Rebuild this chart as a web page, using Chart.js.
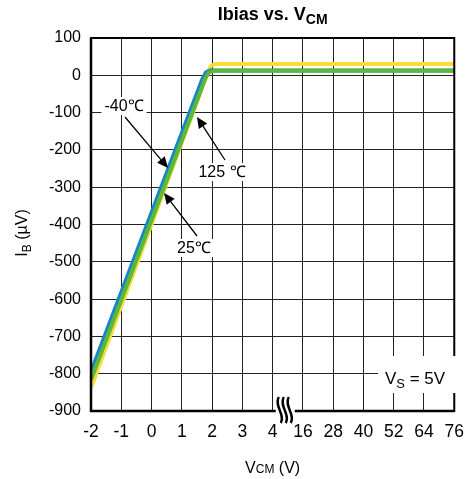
<!DOCTYPE html>
<html>
<head>
<meta charset="utf-8">
<script src="https://cdn.jsdelivr.net/npm/chart.js@4.4.1/dist/chart.umd.min.js"></script>
<style>
  body { margin: 0; background: #fff; }
  #wrap { width: 475px; height: 479px; }
</style>
</head>
<body>
<div id="wrap"><canvas id="chart" width="475" height="479"></canvas></div>
<script>
// Tick labels of the broken x axis (-2..4, then 16..76)
const xTickLabels = ['-2', '-1', '0', '1', '2', '3', '4', '16', '28', '40', '52', '64', '76'];

// VCM (V) and IB (uV), one pair of arrays per temperature
const vcmBlue = [-2, 1.68, 1.8, 1.95, 76];        // -40 C
const ibBlue = [-795, -10, 8, 13, 13];
const vcmGreen = [-2, 1.78, 1.9, 2.05, 76];       // 25 C
const ibGreen = [-816, -8, 8, 12, 12];
const vcmYellow = [-2, 1.86, 1.96, 2.1, 76];      // 125 C
const ibYellow = [-838, 8, 25, 30, 30];

// position on the axis: one step per tick, the axis is broken after 4 V
function naAxi(v) {
    if (v <= 4) return v + 2;
    return 7 + (v - 16) / 12;
}

function tocke(vcm, ib) {
    return vcm.map((v, i) => ({ x: naAxi(v), y: ib[i] }));
}

const FONT = "'Liberation Sans', Arial, sans-serif";

// crta tekst sa subscriptom, dijelovi = [{t, size, bold, dy}]
function crtajDijelove(ctx, dijelovi, x, y, align) {
    let ukupno = 0;
    dijelovi.forEach(d => {
        ctx.font = (d.bold ? 'bold ' : '') + d.size + 'px ' + FONT;
        d.w = ctx.measureText(d.t).width;
        ukupno += d.w;
    });
    let pocetak = x;
    if (align === 'center') pocetak = x - ukupno / 2;
    if (align === 'right') pocetak = x - ukupno;
    ctx.textAlign = 'left';
    ctx.textBaseline = 'alphabetic';
    dijelovi.forEach(d => {
        ctx.font = (d.bold ? 'bold ' : '') + d.size + 'px ' + FONT;
        ctx.fillText(d.t, pocetak, y + (d.dy || 0));
        pocetak += d.w;
    });
    return ukupno;
}

function strelica(ctx, x1, y1, x2, y2) {
    const kut = Math.atan2(y2 - y1, x2 - x1);
    const duz = 11, sir = 5;
    ctx.strokeStyle = '#000';
    ctx.fillStyle = '#000';
    ctx.lineWidth = 1.3;
    ctx.beginPath();
    ctx.moveTo(x1, y1);
    ctx.lineTo(x2 - Math.cos(kut) * duz, y2 - Math.sin(kut) * duz);
    ctx.stroke();
    ctx.beginPath();
    ctx.moveTo(x2, y2);
    ctx.lineTo(x2 - Math.cos(kut) * duz - Math.sin(kut) * sir, y2 - Math.sin(kut) * duz + Math.cos(kut) * sir);
    ctx.lineTo(x2 - Math.cos(kut) * duz + Math.sin(kut) * sir, y2 - Math.sin(kut) * duz - Math.cos(kut) * sir);
    ctx.closePath();
    ctx.fill();
}

function oznaka(ctx, tekst, cx, cy) {
    ctx.font = '16px ' + FONT;
    const w = ctx.measureText(tekst).width;
    ctx.fillStyle = '#fff';
    ctx.fillRect(cx - w / 2 - 3, cy - 9, w + 6, 18);
    ctx.fillStyle = '#000';
    ctx.textAlign = 'center';
    ctx.textBaseline = 'middle';
    ctx.fillText(tekst, cx, cy + 1);
}

const dodaci = {
    id: 'dodaci',
    afterDatasetsDraw(chart) {
        const ctx = chart.ctx;
        const a = chart.chartArea;
        const xs = chart.scales.x;
        ctx.save();

        // okvir
        ctx.strokeStyle = '#000';
        ctx.lineWidth = 2;
        ctx.strokeRect(a.left, a.top, a.right - a.left, a.bottom - a.top);
        ctx.lineWidth = 2.5;
        ctx.beginPath();
        ctx.moveTo(a.left, a.top);
        ctx.lineTo(a.left, a.bottom);
        ctx.lineTo(a.right, a.bottom);
        ctx.stroke();

        // prekid osi izmedju 4 i 16
        const bx = (xs.getPixelForValue(6) + xs.getPixelForValue(7)) / 2 - 3;
        ctx.fillStyle = '#fff';
        ctx.fillRect(bx - 9, a.bottom - 3, 19, 6);
        ctx.lineWidth = 2.4;
        [-5, 0, 5].forEach(o => {
            const x = bx + o;
            ctx.beginPath();
            ctx.moveTo(x - 1, a.bottom - 14);
            ctx.bezierCurveTo(x - 6, a.bottom - 5, x + 6, a.bottom + 4, x + 1, a.bottom + 12);
            ctx.stroke();
        });

        // natpisi temperatura
        oznaka(ctx, '-40\u2103', 124, 106);
        strelica(ctx, 125, 117, 168, 168);
        oznaka(ctx, '125 \u2103', 222, 172);
        strelica(ctx, 225, 160, 197, 117);
        oznaka(ctx, '25\u2103', 194, 248);
        strelica(ctx, 197, 236, 164, 193);

        // VS = 5V
        ctx.fillStyle = '#fff';
        ctx.fillRect(378, 356, 79, 37);
        ctx.fillStyle = '#000';
        crtajDijelove(ctx, [
            { t: 'V', size: 17 },
            { t: 'S', size: 13, dy: 4 },
            { t: ' = 5V', size: 17 }
        ], 415, 384, 'center');

        // naslov
        crtajDijelove(ctx, [
            { t: 'Ibias vs. V', size: 18, bold: true },
            { t: 'CM', size: 14, bold: true, dy: 4 }
        ], (a.left + a.right) / 2, 20, 'center');

        // naslov x osi
        crtajDijelove(ctx, [
            { t: 'V', size: 16 },
            { t: 'CM', size: 12 },
            { t: ' (V)', size: 16 }
        ], (a.left + a.right) / 2, 473, 'center');

        // naslov y osi
        ctx.translate(27, 233);
        ctx.rotate(-Math.PI / 2);
        crtajDijelove(ctx, [
            { t: 'I', size: 16 },
            { t: 'B', size: 12, dy: 4 },
            { t: ' (\u00b5V)', size: 16 }
        ], 0, 0, 'center');

        ctx.restore();
    }
};

// prvi skup se crta zadnji (na vrhu): zelena, pa plava, pa zuta
const skupovi = [
    { label: '25 C', data: tocke(vcmGreen, ibGreen), borderColor: '#5cb839' },
    { label: '-40 C', data: tocke(vcmBlue, ibBlue), borderColor: '#1885c9' },
    { label: '125 C', data: tocke(vcmYellow, ibYellow), borderColor: '#f7dc3a' }
].map(s => Object.assign(s, {
    borderWidth: 4,
    pointRadius: 0,
    fill: false,
    tension: 0,
    clip: 0,
    borderJoinStyle: 'round'
}));

new Chart(document.getElementById('chart'), {
    type: 'line',
    data: { datasets: skupovi },
    plugins: [dodaci],
    options: {
        responsive: false,
        animation: false,
        layout: { padding: { top: 38, right: 11, left: 0, bottom: 0 } },
        plugins: {
            legend: { display: false },
            tooltip: { enabled: false }
        },
        scales: {
            x: {
                type: 'linear',
                min: 0,
                max: 12,
                afterFit: s => { s.height = 68; },
                grid: { color: '#222', lineWidth: 1, drawTicks: false },
                border: { display: false },
                ticks: {
                    stepSize: 1,
                    padding: 11,
                    color: '#000',
                    maxRotation: 0,
                    autoSkip: false,
                    font: { family: FONT, size: 17.5 },
                    callback: v => xTickLabels[v]
                }
            },
            y: {
                min: -900,
                max: 100,
                afterFit: s => { s.width = 91; },
                grid: { color: '#222', lineWidth: 1, drawTicks: false },
                border: { display: false },
                ticks: {
                    stepSize: 100,
                    padding: 10,
                    color: '#000',
                    font: { family: FONT, size: 16 }
                }
            }
        }
    }
});
</script>
</body>
</html>
